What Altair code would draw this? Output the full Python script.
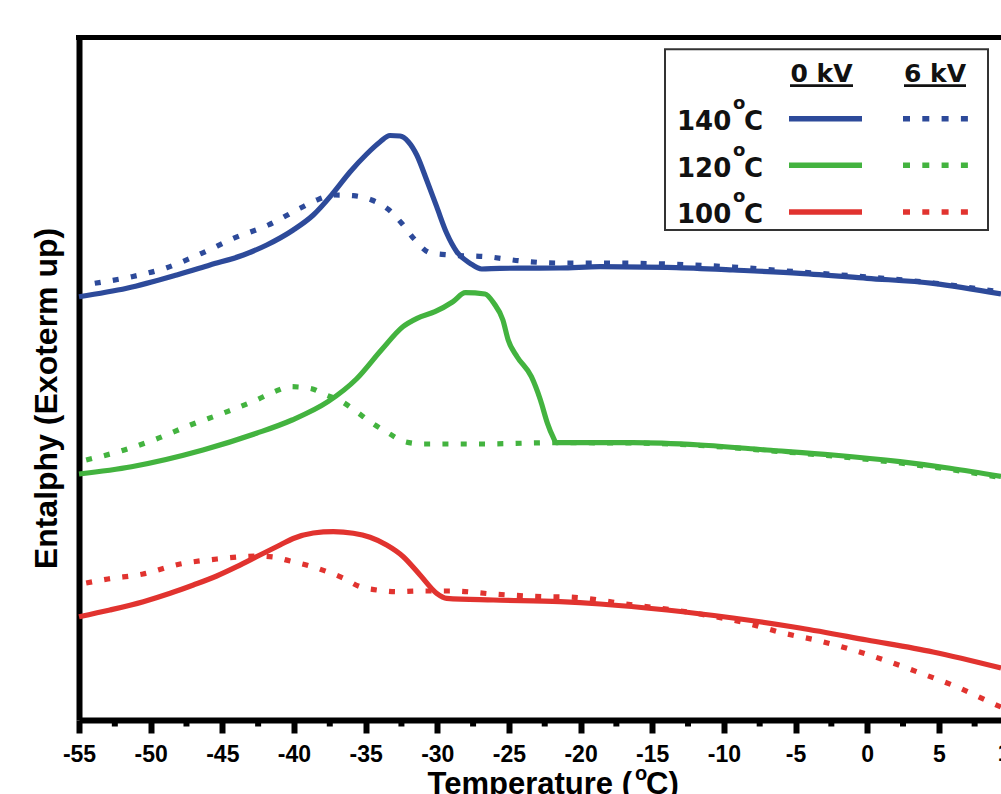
import altair as alt
import pandas as pd

# ---------------- data (temperature in degC, enthalpy in arbitrary units) ----------------
temp_ticks = [-55, -50, -45, -40, -35, -30, -25, -20, -15, -10, -5, 0, 5]
minor_ticks = [-52.5, -47.5, -42.5, -37.5, -32.5, -27.5, -22.5, -17.5, -12.5, -7.5, -2.5, 2.5, 7.5]
cut_tick = [10]

series_names = ["140°C", "120°C", "100°C"]
series_numbers = ["140", "120", "100"]
voltages = ["0 kV", "6 kV"]
x_title_parts = ["Temperature (", "o", "C)"]
y_title = "Entalphy (Exoterm up)"

# 140 C, 0 kV
b0_t = [-55, -51.67, -48.18, -45.86, -43.53, -41.90, -40.05, -38.65, -37.26, -36.09, -34.92, -34.00,
        -33.30, -32.60, -32.02, -31.43, -30.74, -30.04, -29.34, -28.64, -27.71, -26.90, -25.62, -21.43,
        -18.64, -13.97, -9.36, -4.69, 0.0, 4.60, 9.34]
b0_v = [423.3, 431.7, 445, 455, 465, 475, 490, 505, 527, 548, 566, 578,
        584.5, 584, 578.3, 565, 540, 513.3, 486.7, 468.3, 456.7, 451, 451.7, 452,
        453.3, 452.7, 450, 446.7, 441.7, 436.7, 426]
# 140 C, 6 kV
b6_t = [-53.9, -51.32, -48.88, -46.44, -44.11, -41.79, -39.58, -38.41, -37.14, -35.86, -34.57, -33.42,
        -32.48, -31.55, -30.51, -29.11, -26.55, -24.11, -21.66, -18.64, -13.97, -9.36, -4.69, 0.0,
        4.60, 7.39, 9.34]
b6_v = [436.7, 443.3, 452.3, 466.7, 482.3, 495, 511.7, 520, 525, 524.3, 520, 510.7,
        496.7, 480, 467.3, 465, 463.3, 459, 457, 457, 456, 453, 448, 443,
        437, 432, 428]
# 120 C, 0 kV
g0_t = [-55, -51.34, -46.35, -42.62, -40.13, -37.63, -35.64, -33.90, -32.40, -31.41, -30.16, -28.91,
        -28.04, -26.67, -26.05, -25.42, -25.05, -24.43, -23.43, -22.80, -22.31, -21.93, -21.69, -16.34,
        -11.66, -6.99, -2.38, 2.29, 5.78, 9.34]
g0_v = [246, 253.3, 270, 286.7, 300, 318.3, 341, 370, 393.3, 401.7, 408.3, 418.3,
        427.3, 426, 416.7, 400, 380, 363.3, 343.3, 320, 296.7, 283.3, 277.3, 277.3,
        275, 270, 265, 258.3, 251.7, 243.5]
# 120 C, 6 kV
g6_t = [-54.5, -51.84, -49.60, -47.23, -44.86, -42.62, -41.37, -40.25, -38.88, -37.76, -36.65, -35.64,
        -34.52, -33.39, -32.28, -31.03, -27.02, -21.71, -16.34, -11.66, -6.99, -2.38, 2.29, 5.78, 9.34]
g6_v = [260, 270, 281, 295, 307.3, 320, 328.3, 333.3, 331.7, 325, 318.3, 308.3,
        296.7, 286.7, 278.3, 276, 276, 277.3, 277, 274.5, 269.5, 264, 257, 250.5, 242.5]
# 100 C, 0 kV
r0_t = [-55, -52.84, -50.51, -48.64, -47.02, -45.39, -43.99, -42.37, -40.97, -40.05, -38.65, -37.25,
        -35.86, -34.69, -33.53, -32.37, -31.20, -30.04, -29.34, -26.09, -21.43, -18.64, -13.97, -9.36,
        -4.69, -0.01, 4.60, 9.34]
r0_v = [103.3, 110, 118.3, 126.7, 135, 144, 153.3, 165, 175, 181.5, 187, 188.3,
        186.7, 182.7, 175, 163.3, 145, 126.7, 121.7, 120, 118.3, 116, 110, 102,
        92, 80, 68, 52]
# 100 C, 6 kV
r6_t = [-54.5, -52.98, -50.53, -47.95, -45.37, -43.97, -42.58, -41.46, -40.27, -38.88, -37.69, -36.57,
        -35.39, -34.20, -32.80, -31.41, -28.90, -26.11, -22.34, -20.95, -16.34, -11.67, -8.18, -5.87,
        -3.29, -0.99, 1.39, 3.90, 6.27, 8.71, 9.34]
r6_v = [137, 141, 146, 156, 161, 163, 164, 163, 159, 154, 148.3, 142,
        133.3, 130, 128.3, 129, 129, 126, 123.3, 123, 115, 106, 96, 87,
        79, 70, 59, 46, 33, 17, 13]

# ---------------- styling ----------------
BLUE, GREEN, RED = "#2D4A9A", "#43B33F", "#E1332F"
colors = [BLUE, GREEN, RED]
W, H = 922, 683
X_DOMAIN = [-55, 9.34]
Y_DOMAIN = [0, 683]
TICK_FONT = "Liberation Sans"
LEG_FONT = "DejaVu Sans"


def frame(t, v, name, kv):
    return pd.DataFrame({"T": t, "H": v, "series": name, "kv": kv})


curves = pd.concat([
    frame(b0_t, b0_v, series_names[0], voltages[0]),
    frame(g0_t, g0_v, series_names[1], voltages[0]),
    frame(r0_t, r0_v, series_names[2], voltages[0]),
    frame(b6_t, b6_v, series_names[0], voltages[1]),
    frame(g6_t, g6_v, series_names[1], voltages[1]),
    frame(r6_t, r6_v, series_names[2], voltages[1]),
], ignore_index=True)

xscale = alt.Scale(domain=X_DOMAIN, nice=False, zero=False)
yscale = alt.Scale(domain=Y_DOMAIN, nice=False, zero=False)
color = alt.Color("series:N", scale=alt.Scale(domain=series_names, range=colors), legend=None)

x_axis = alt.Axis(
    values=temp_ticks, labelExpr="datum.value + ''", grid=False,
    domainColor="black", domainWidth=6, tickColor="black", tickWidth=6, tickSize=13,
    labelFont=TICK_FONT, labelFontWeight="bold", labelFontSize=23, labelColor="black",
    labelBaseline="alphabetic", labelPadding=28, labelFlush=False, labelOverlap=False,
    title=None,
)
y_axis = alt.Axis(
    ticks=False, labels=False, grid=False, domainColor="black", domainWidth=6,
    title=y_title, titleFont=TICK_FONT, titleFontWeight="bold", titleFontSize=32,
    titleColor="black", titleAngle=270, titleBaseline="alphabetic", titleAlign="center",
    titleX=-23, titleY=361,
)

base = alt.Chart(curves)
solid = base.transform_filter(alt.datum.kv == voltages[0]).mark_line(
    strokeWidth=5.2, interpolate="monotone", strokeCap="butt"
).encode(
    x=alt.X("T:Q", scale=xscale, axis=x_axis),
    y=alt.Y("H:Q", scale=yscale, axis=y_axis),
    color=color, detail="series:N", order="T:Q",
)
dotted = base.transform_filter(alt.datum.kv == voltages[1]).mark_line(
    strokeWidth=5.2, interpolate="monotone", strokeCap="butt", strokeDash=[6, 12.3]
).encode(
    x=alt.X("T:Q", scale=xscale), y=alt.Y("H:Q", scale=yscale),
    color=color, detail="series:N", order="T:Q",
)

minor = alt.Chart(pd.DataFrame({"T": minor_ticks})).mark_rule(color="black", strokeWidth=6).encode(
    x=alt.X("T:Q", scale=xscale), y=alt.value(H), y2=alt.value(H + 6.5)
)
cut_label = alt.Chart(pd.DataFrame({"T": cut_tick})).mark_text(
    font=TICK_FONT, fontWeight="bold", fontSize=23, color="black", baseline="alphabetic", align="center"
).encode(x=alt.X("T:Q", scale=xscale), y=alt.value(H + 41), text=alt.Text("T:Q"))

one = alt.Data(values=[{"k": 1}])
top_border = alt.Chart(one).mark_rule(color="black", strokeWidth=5).encode(
    x=alt.value(-3), x2=alt.value(W + 5), y=alt.value(0.5)
)


def txt(s, x, y, size, font, align="left", col="black"):
    return alt.Chart(one).mark_text(
        font=font, fontWeight="bold", fontSize=size, color=col, baseline="alphabetic", align=align
    ).encode(x=alt.value(x), y=alt.value(y), text=alt.value(s))


# x-axis title with superscript o
title_layers = [
    txt(x_title_parts[0], 553, H + 74, 31, TICK_FONT, align="right"),
    txt(x_title_parts[1], 556, H + 60, 20, TICK_FONT),
    txt(x_title_parts[2], 567, H + 74, 31, TICK_FONT),
]

# ---------------- legend drawn by hand ----------------
legend_layers = [
    alt.Chart(one).mark_rect(fill="white", stroke="#333333", strokeWidth=2).encode(
        x=alt.value(586), x2=alt.value(909), y=alt.value(12.3), y2=alt.value(193)
    )
]
header_x = [742.5, 856]
underline_x = [(711, 774), (825, 887)]
for kv, cx, (u0, u1) in zip(voltages, header_x, underline_x):
    legend_layers.append(txt(kv, cx, 44.7, 25, LEG_FONT, align="center", col="#111111"))
    legend_layers.append(alt.Chart(one).mark_rule(color="#111111", strokeWidth=2.7).encode(
        x=alt.value(u0), x2=alt.value(u1), y=alt.value(48.7)))

row_y = [81.7, 128.3, 175]
for num, col, yy in zip(series_numbers, colors, row_y):
    base_y = yy + 11.3
    legend_layers.append(txt(num, 598, base_y, 26, LEG_FONT, col="#111111"))
    legend_layers.append(txt("o", 654, base_y - 21, 18, LEG_FONT, col="#111111"))
    legend_layers.append(txt("C", 665, base_y, 26, LEG_FONT, col="#111111"))
    legend_layers.append(alt.Chart(one).mark_rule(color=col, strokeWidth=5.5).encode(
        x=alt.value(710), x2=alt.value(783), y=alt.value(yy)))
    legend_layers.append(alt.Chart(one).mark_rule(color=col, strokeWidth=5.5, strokeDash=[7, 12.3]).encode(
        x=alt.value(824), x2=alt.value(891), y=alt.value(yy)))

chart = alt.layer(solid, dotted, minor, cut_label, top_border, *title_layers, *legend_layers).properties(
    width=W, height=H,
    autosize=alt.AutoSizeParams(type="none"),
    padding={"left": 79, "top": 37, "right": 0, "bottom": 74},
    background="white",
).configure_view(stroke=None)

chart.save("out.html", embed_options={"renderer": "svg", "actions": False})
